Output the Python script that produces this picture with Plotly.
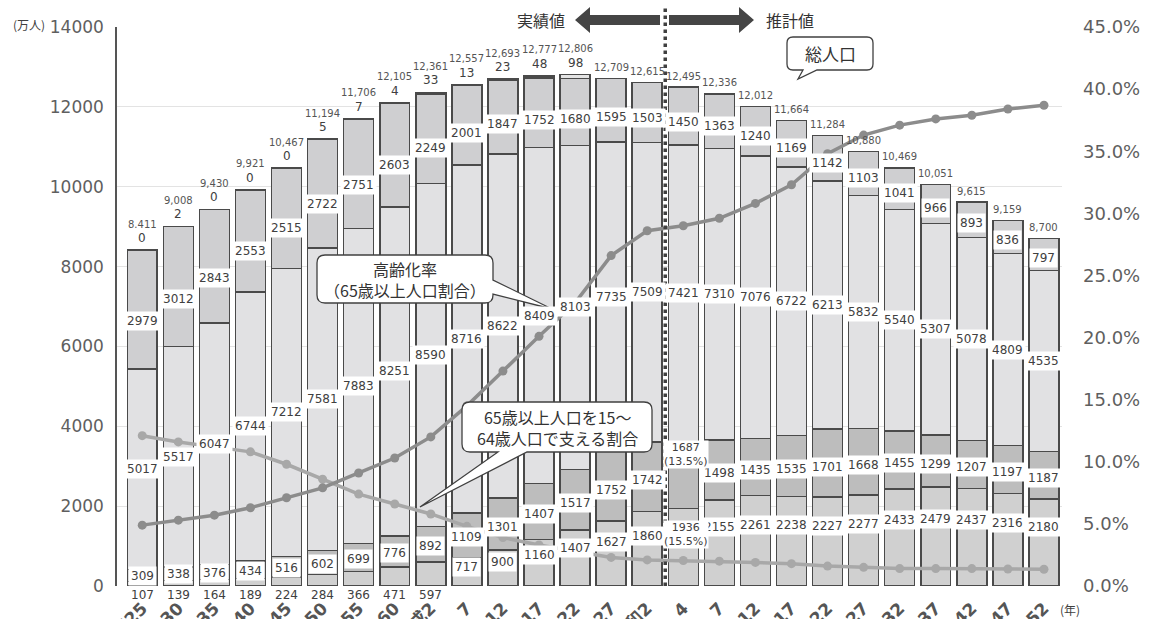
import plotly.graph_objects as go

# ---------------- data ----------------
x_labels = ["昭和25", "30", "35", "40", "45", "50", "55", "60", "平成2", "7", "12", "17", "22",
            "27", "令和2", "4", "7", "12", "17", "22", "27", "32", "37", "42", "47", "52"]
total_pop = [8411, 9008, 9430, 9921, 10467, 11194, 11706, 12105, 12361, 12557, 12693, 12777, 12806,
             12709, 12615, 12495, 12336, 12012, 11664, 11284, 10880, 10469, 10051, 9615, 9159, 8700]
total_text = ["8.411", "9,008", "9,430", "9,921", "10,467", "11,194", "11,706", "12,105", "12,361",
              "12,557", "12,693", "12,777", "12,806", "12,709", "12,615", "12,495", "12,336", "12,012",
              "11,664", "11,284", "10,880", "10,469", "10,051", "9,615", "9,159", "8,700"]
unknown = [0, 2, 0, 0, 0, 5, 7, 4, 33, 13, 23, 48, 98,
           None, None, None, None, None, None, None, None, None, None, None, None, None]
pop_0_14 = [2979, 3012, 2843, 2553, 2515, 2722, 2751, 2603, 2249, 2001, 1847, 1752, 1680,
            1595, 1503, 1450, 1363, 1240, 1169, 1142, 1103, 1041, 966, 893, 836, 797]
pop_15_64 = [5017, 5517, 6047, 6744, 7212, 7581, 7883, 8251, 8590, 8716, 8622, 8409, 8103,
             7735, 7509, 7421, 7310, 7076, 6722, 6213, 5832, 5540, 5307, 5078, 4809, 4535]
pop_65_74 = [309, 338, 376, 434, 516, 602, 699, 776, 892, 1109, 1301, 1407, 1517,
             1752, 1742, 1687, 1498, 1435, 1535, 1701, 1668, 1455, 1299, 1207, 1197, 1187]
pop_75_over = [107, 139, 164, 189, 224, 284, 366, 471, 597, 717, 900, 1160, 1407,
               1627, 1860, 1936, 2155, 2261, 2238, 2227, 2277, 2433, 2479, 2437, 2316, 2180]
share_65_74 = [None] * 15 + ["13.5%"] + [None] * 10
share_75_over = [None] * 15 + ["15.5%"] + [None] * 10
aging_rate = [4.9, 5.3, 5.7, 6.3, 7.1, 7.9, 9.1, 10.3, 12.0, 14.5, 17.3, 20.1, 22.8,
              26.6, 28.6, 29.0, 29.6, 30.8, 32.3, 34.8, 36.3, 37.1, 37.6, 37.9, 38.4, 38.7]
support_ratio = [12.1, 11.6, 11.2, 10.8, 9.8, 8.6, 7.4, 6.6, 5.8, 4.8, 3.9, 3.3, 2.8,
                 2.3, 2.1, 2.05, 2.0, 1.9, 1.8, 1.6, 1.5, 1.4, 1.4, 1.4, 1.37, 1.35]

idx = list(range(len(x_labels)))

# ---------------- layout helpers ----------------
W, H = 1153, 619
L, R, T, B = 117, 91, 27, 33
PW, PH = W - L - R, H - T - B


def px(x):
    return (x - L) / PW


def py(y):
    return (H - B - y) / PH


def path(cmds):
    out = []
    for c in cmds:
        if c[0] in ("M", "L"):
            out.append(f"{c[0]} {px(c[1]):.5f},{py(c[2]):.5f}")
        elif c[0] == "Q":
            out.append(f"Q {px(c[1]):.5f},{py(c[2]):.5f} {px(c[3]):.5f},{py(c[4]):.5f}")
        elif c[0] == "Z":
            out.append("Z")
    return " ".join(out)


NUM_FONT = "DejaVu Sans, Verdana, Noto Sans CJK JP"
JP_FONT = "Noto Sans CJK JP, DejaVu Sans"
TXT = "#404040"

fig = go.Figure()

bar_specs = [
    ("75歳以上", pop_75_over, "#d0d0d0"),
    ("65～74歳", pop_65_74, "#bdbdbd"),
    ("15～64歳", pop_15_64, "#e1e1e3"),
    ("0～14歳", pop_0_14, "#cfcfd1"),
    ("年齢不詳", unknown, "#e4e4e4"),
]
for name, vals, color in bar_specs:
    fig.add_trace(go.Bar(
        x=idx, y=vals, name=name,
        marker=dict(color=color, line=dict(color="#4a4a4a", width=1.5)),
        hoverinfo="skip",
    ))

fig.add_trace(go.Scatter(
    x=idx, y=support_ratio, yaxis="y2", mode="lines+markers", name="支える割合",
    line=dict(color="#a8a8a8", width=3.5), marker=dict(size=9, color="#a8a8a8"),
    hoverinfo="skip",
))
fig.add_trace(go.Scatter(
    x=idx, y=aging_rate, yaxis="y2", mode="lines+markers", name="高齢化率",
    line=dict(color="#8c8c8c", width=3.5), marker=dict(size=9, color="#8c8c8c"),
    hoverinfo="skip",
))

annotations = []
top_annotations = []   # drawn last (on top)
CLEAR = "rgba(0,0,0,0)"


def seg_label(x, y, text, yshift=0, bg="white"):
    annotations.append(dict(
        x=x, y=y, xref="x", yref="y", text=text, showarrow=False, yshift=yshift,
        xanchor="center", yanchor="middle",
        font=dict(family=NUM_FONT, size=12, color=TXT), bgcolor=bg, borderpad=2,
    ))


def share_label(x, y, text):
    top_annotations.append(dict(
        x=x, y=y, xref="x", yref="y", text=text, showarrow=False, xshift=3,
        xanchor="center", yanchor="middle",
        font=dict(family=NUM_FONT, size=11, color=TXT), bgcolor="white", borderpad=0,
    ))


for i in idx:
    v75 = pop_75_over[i]
    v6574 = pop_65_74[i]
    v1564 = pop_15_64[i]
    v014 = pop_0_14[i]
    # 75+
    if share_75_over[i]:
        share_label(i, v75 * 0.66, f"{v75}<br>({share_75_over[i]})")
    elif v75 < 650:
        seg_label(i, 0, str(v75), yshift=-9, bg=CLEAR)
    else:
        seg_label(i, v75 * 0.68, str(v75))
    # 65-74
    if share_65_74[i]:
        share_label(i, v75 + v6574 * 0.8, f"{v6574}<br>({share_65_74[i]})")
    else:
        seg_label(i, v75 + v6574 * 0.45, str(v6574))
    # 15-64
    seg_label(i, v75 + v6574 + v1564 * 0.5, str(v1564))
    # 0-14
    seg_label(i, v75 + v6574 + v1564 + v014 * 0.4, str(v014))
    # unknown + total
    has_unk = unknown[i] is not None
    if has_unk:
        annotations.append(dict(
            x=i, y=total_pop[i], xref="x", yref="y", text=str(unknown[i]), showarrow=False,
            xanchor="center", yanchor="middle",
            yshift=12, font=dict(family=NUM_FONT, size=12, color=TXT)))
    annotations.append(dict(
        x=i, y=total_pop[i], xref="x", yref="y", text=total_text[i], showarrow=False,
        xanchor="center", yanchor="middle",
        yshift=26 if has_unk else 11, font=dict(family=NUM_FONT, size=10, color="#555555")))


def ptext(x, y, text, size, color="#333333", family=JP_FONT):
    return dict(x=px(x), y=py(y), xref="paper", yref="paper", text=text, showarrow=False,
                xanchor="center", yanchor="middle", font=dict(family=family, size=size, color=color))


annotations += [
    ptext(29, 25, "(万人)", 12, TXT),
    ptext(1070, 609, "(年)", 12, TXT),
    ptext(541, 20, "実績値", 16),
    ptext(790, 20, "推計値", 16),
    ptext(830, 54, "総人口", 17),
    ptext(405, 279, "高齢化率<br>（65歳以上人口割合）", 16),
    ptext(557, 427, "65歳以上人口を15～<br>64歳人口で支える割合", 16),
]


# callouts
def callout(x0, y0, x1, y1, r, pointer_cmds, side):
    c = [("M", x0 + r, y0), ("L", x1 - r, y0), ("Q", x1, y0, x1, y0 + r)]
    if side == "right":
        c += pointer_cmds
    c += [("L", x1, y1 - r), ("Q", x1, y1, x1 - r, y1)]
    if side == "bottom":
        c += pointer_cmds
    c += [("L", x0 + r, y1), ("Q", x0, y1, x0, y1 - r), ("L", x0, y0 + r),
          ("Q", x0, y0, x0 + r, y0), ("Z",)]
    return path(c)


shapes = []
callout_style = dict(type="path", xref="paper", yref="paper", fillcolor="white",
                     line=dict(color="#404040", width=1.3), layer="above")
shapes.append(dict(path=callout(787, 37, 873, 70, 6,
                                [("L", 817, 70), ("L", 798, 79), ("L", 803, 70)], "bottom"),
                   **callout_style))
shapes.append(dict(path=callout(317, 255, 493, 303, 8,
                                [("L", 493, 280), ("L", 552, 309), ("L", 493, 294)], "right"),
                   **callout_style))
shapes.append(dict(path=callout(462, 402, 652, 452, 8,
                                [("L", 527, 452), ("L", 420, 507), ("L", 498, 452)], "bottom"),
                   **callout_style))

# arrows at top
arrow_style = dict(type="path", xref="paper", yref="paper", fillcolor="#454545",
                   line=dict(width=0), layer="above")
shapes.append(dict(path=path([("M", 660, 15), ("L", 590, 15), ("L", 590, 7), ("L", 575, 20),
                              ("L", 590, 33), ("L", 590, 25), ("L", 660, 25), ("Z",)]),
                   **arrow_style))
shapes.append(dict(path=path([("M", 669, 15), ("L", 739, 15), ("L", 739, 7), ("L", 754, 20),
                              ("L", 739, 33), ("L", 739, 25), ("L", 669, 25), ("Z",)]),
                   **arrow_style))
# divider between actual and projected
shapes.append(dict(type="line", xref="x", yref="paper", x0=14.5, x1=14.5, y0=0, y1=py(7),
                   line=dict(color="#404040", width=3.5, dash="dot"), layer="above"))

fig.update_layout(
    width=W, height=H,
    margin=dict(l=L, r=R, t=T, b=B, autoexpand=False),
    paper_bgcolor="white", plot_bgcolor="white",
    barmode="stack", bargap=0.17,
    showlegend=False,
    annotations=annotations + top_annotations, shapes=shapes,
    xaxis=dict(
        range=[-0.7, 25.5], tickmode="array", tickvals=idx, ticktext=x_labels,
        tickangle=-45, ticks="", showgrid=False, zeroline=False, showline=False,
        tickfont=dict(family=NUM_FONT, size=17, color="#555555", weight="bold"),
        ticklabelstandoff=8, automargin=False,
    ),
    yaxis=dict(
        range=[0, 14000], dtick=2000, tickformat="d", showgrid=True, gridcolor="#e3e3e3",
        gridwidth=1.2, zeroline=False, showline=True, linecolor="#555555", linewidth=1.5,
        tickfont=dict(family=NUM_FONT, size=17, color="#5f5f5f"), ticks="",
        ticklabelstandoff=8, automargin=False,
    ),
    yaxis2=dict(
        overlaying="y", side="right", range=[0, 45], dtick=5, tickformat=".1f",
        ticksuffix="%", showgrid=False, zeroline=False, showline=False,
        tickfont=dict(family=NUM_FONT, size=18, color="#5f5f5f"), ticks="",
        ticklabelstandoff=20, automargin=False,
    ),
)

fig.write_html(
    "out.html",
    config={"displayModeBar": False},
    post_script="document.body.style.margin='0px';document.body.style.padding='0px';"
                "document.documentElement.style.overflow='hidden';",
)
